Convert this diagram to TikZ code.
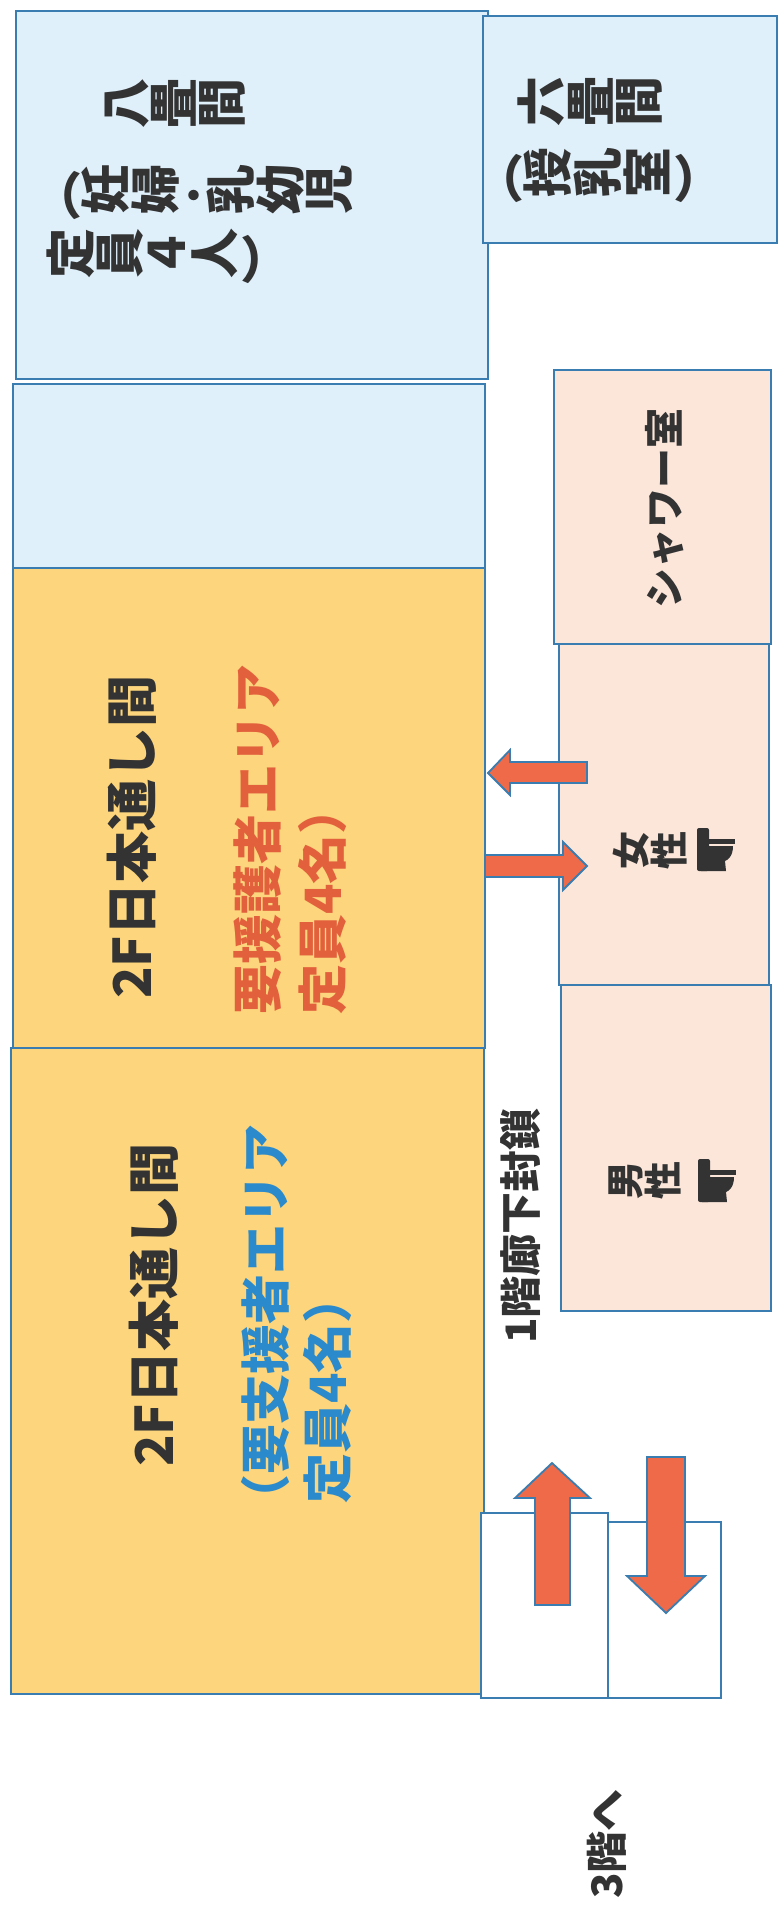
\documentclass[tikz,border=0pt]{standalone}
\usepackage{fontspec}
\setmainfont{Noto Sans CJK JP}
\usepackage{graphicx}

\definecolor{edge}{HTML}{3A7DB0}
\definecolor{skyfill}{HTML}{E0F0FB}
\definecolor{sunfill}{HTML}{FCD57C}
\definecolor{peachfill}{HTML}{FCE6DA}
\definecolor{arrowfill}{HTML}{EE6A48}
\definecolor{ink}{HTML}{333333}
\definecolor{redink}{HTML}{E2603C}
\definecolor{blueink}{HTML}{2B8ACB}

% vertical writing, turned with the page
\newcommand\tatechar[1]{\rotatebox{90}{\rule[-0.14em]{0pt}{0.94em}#1}}
\let\tateend\relax
\def\tateloop#1{\ifx#1\tateend\else\tatechar{#1}\expandafter\tateloop\fi}
\newcommand\tate[1]{\tateloop#1\tateend}

\begin{document}
\begin{tikzpicture}[x=1pt, y=-1pt,
    room/.style = {draw=edge, line width=2pt, inner sep=0pt, anchor=north west},
    txt/.style = {inner sep=0pt, anchor=west, text=ink},
    rot/.style = {txt, rotate=90},
    big/.style = {font=\fontsize{50}{60}\selectfont\bfseries},
    mid/.style = {font=\fontsize{42}{50}\selectfont\bfseries},
    small/.style = {font=\fontsize{38}{46}\selectfont\bfseries},
    blockarrow/.style = {draw=edge, line width=1.8pt, fill=arrowfill, line join=miter},
    toilet/.pic = {
        \fill[ink, rounded corners=2pt] (0,0) rectangle (12,43);
        \fill[ink] (11,11) rectangle (38,16);
        \fill[ink] (11,18) -- (36,18) .. controls (36,28) and (31,32) .. (28,33)
            -- (29,43) -- (4,43) -- (4,33) -- (11,33) -- cycle;
    }]
    \useasboundingbox (0,0) rectangle (779,1909);
    % rooms
    \node[room, fill=skyfill, minimum width=472pt, minimum height=368pt] (hachi) at (15,10) {};
    \node[room, fill=skyfill, minimum width=294pt, minimum height=227pt] (roku) at (482,15) {};
    \node[room, fill=skyfill, minimum width=472pt, minimum height=184pt] (hall) at (12,383) {};
    \node[room, fill=sunfill, minimum width=472pt, minimum height=480pt] (honA) at (12,567) {};
    \node[room, fill=sunfill, minimum width=473pt, minimum height=646pt] (honB) at (10,1047) {};
    \node[room, fill=peachfill, minimum width=217pt, minimum height=274pt] (shower) at (553,369) {};
    \node[room, fill=peachfill, minimum width=210pt, minimum height=341pt] (women) at (558,643) {};
    \node[room, fill=peachfill, minimum width=210pt, minimum height=326pt] (men) at (560,984) {};
    \node[room, fill=white, minimum width=127pt, minimum height=185pt] (stairA) at (480,1512) {};
    \node[room, fill=white, minimum width=113pt, minimum height=176pt] (stairB) at (607,1521) {};

    % labels
    \node[txt, big] (hachi1) at (104,103) {\tate{八畳間}};
    \node[txt, big] (hachi2) at (32,192) {（\tate{妊婦}･\tate{乳幼児}};
    \node[txt, big] (hachi3) at (47,256) {\tate{定員４人}）};
    \node[txt, big] (roku1) at (518,101) {\tate{六畳間}};
    \node[txt, big] (roku2) at (474,175) {（\tate{授乳室}）};
    \node[rot, big, font=\fontsize{52}{60}\selectfont\bfseries] (honA1) at (132,999) {2F日本通し間};
    \node[rot, big, text=redink] (honA2) at (258,1015) {要援護者エリア};
    \node[rot, big, text=redink] (honA3) at (322,1015) {定員4名）};
    \node[rot, big, font=\fontsize{52}{60}\selectfont\bfseries] (honB1) at (154,1467) {2F日本通し間};
    \node[rot, big, text=blueink] (honB2) at (265,1525) {（要支援者エリア};
    \node[rot, big, text=blueink] (honB3) at (327,1504) {定員4名）};
    \node[rot, mid, font=\fontsize{40}{48}\selectfont\bfseries] (shower1) at (665,609) {シャワー室};
    \node[txt, small] (women1) at (613,850) {\tate{女性}};
    \node[txt, small] (men1) at (609,1180) {\tate{男性}};
    \pic at (697,828) {toilet};
    \pic at (698,1159) {toilet};
    \node[rot, mid] (closed) at (521,1344) {1階廊下封鎖};
    \node[rot, mid] (upstairs) at (607,1899) {3階へ};

    % arrows
    \draw[blockarrow] (587,762) -- (510,762) -- (510,750) -- (488,773) -- (510,795) -- (510,783) -- (587,783) -- cycle;
    \draw[blockarrow] (485,855) -- (563,855) -- (563,842) -- (587,866) -- (563,890) -- (563,877) -- (485,877) -- cycle;
    \draw[blockarrow] (535,1605) -- (535,1498) -- (515,1498) -- (552,1463) -- (590,1498) -- (570,1498) -- (570,1605) -- cycle;
    \draw[blockarrow] (647,1457) -- (685,1457) -- (685,1576) -- (705,1576) -- (666,1613) -- (627,1576) -- (647,1576) -- cycle;
\end{tikzpicture}
\end{document}
